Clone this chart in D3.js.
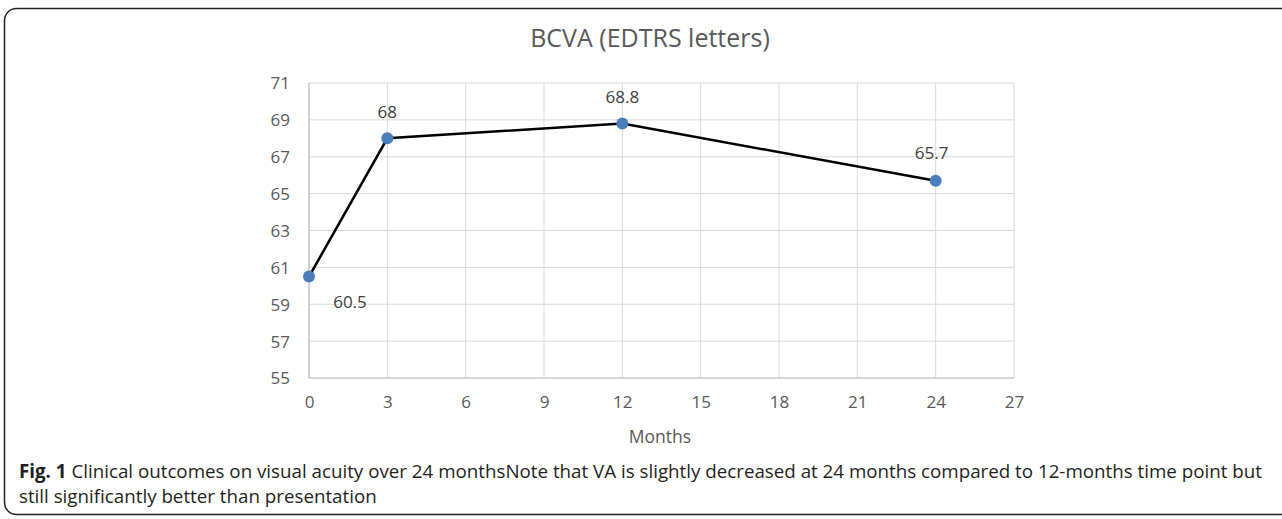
<!DOCTYPE html>
<html><head><meta charset="utf-8">
<script src="https://cdn.jsdelivr.net/npm/d3@7"></script>
<style>body{margin:0;background:#fff}svg{display:block}</style>
</head><body>
<script>
const months = [0, 3, 12, 24];
const bcva = [60.5, 68, 68.8, 65.7];
const labels = ["60.5", "68", "68.8", "65.7"];
const xTicks = [0, 3, 6, 9, 12, 15, 18, 21, 24, 27];
const yTicks = [55, 57, 59, 61, 63, 65, 67, 69, 71];
const title = "BCVA (EDTRS letters)";
const xTitle = "Months";
const captionBold = "Fig. 1";
const captionLine1 = " Clinical outcomes on visual acuity over 24 monthsNote that VA is slightly decreased at 24 months compared to 12-months time point but";
const captionLine2 = "still significantly better than presentation";

const W = 1282, H = 519;
const svg = d3.select("body").append("svg").attr("width", W).attr("height", H);
const font = "'Open Sans', sans-serif";
svg.append("rect").attr("x", 4.5).attr("y", 8.5).attr("width", 1290).attr("height", 506)
  .attr("rx", 12).attr("fill", "none").attr("stroke", "#222").attr("stroke-width", 1.5);

const x = d3.scaleLinear().domain([0, 27]).range([309, 1014]);
const y = d3.scaleLinear().domain([55, 71]).range([378, 83]);

const g = svg.append("g");
g.selectAll(".vg").data(xTicks).join("line")
  .attr("x1", d => x(d)).attr("x2", d => x(d)).attr("y1", y(71)).attr("y2", y(55))
  .attr("stroke", "#d9d9d9").attr("stroke-width", 1);
g.selectAll(".hg").data(yTicks).join("line")
  .attr("x1", x(0)).attr("x2", x(27)).attr("y1", d => y(d)).attr("y2", d => y(d))
  .attr("stroke", "#d9d9d9").attr("stroke-width", 1);
g.append("line").attr("x1", x(0)).attr("x2", x(27)).attr("y1", y(55)).attr("y2", y(55))
  .attr("stroke", "#bfbfbf").attr("stroke-width", 1.2);
g.append("line").attr("x1", x(0)).attr("x2", x(0)).attr("y1", y(71)).attr("y2", y(55))
  .attr("stroke", "#bfbfbf").attr("stroke-width", 1.2);

const fsT = 17;
const xAxis = d3.axisBottom(x).tickValues(xTicks).tickSize(0).tickPadding(0);
const xa = svg.append("g").attr("transform", `translate(0,${y(55)})`).call(xAxis);
xa.select(".domain").remove();
xa.selectAll("text").attr("y", 24).attr("dy", "0.35em").attr("font-family", font).attr("font-size", fsT).attr("fill", "#595959");

const yAxis = d3.axisLeft(y).tickValues(yTicks).tickSize(0).tickPadding(0);
const ya = svg.append("g").attr("transform", `translate(290,0)`).call(yAxis);
ya.select(".domain").remove();
ya.selectAll("text").attr("dy", "0.35em").attr("font-family", font).attr("font-size", fsT).attr("fill", "#595959");

const data = months.map((m, i) => ({m, v: bcva[i], l: labels[i]}));
svg.append("path").datum(data)
  .attr("d", d3.line().x(d => x(d.m)).y(d => y(d.v)))
  .attr("fill", "none").attr("stroke", "#000").attr("stroke-width", 2.5);
svg.selectAll(".pt").data(data).join("circle")
  .attr("cx", d => x(d.m)).attr("cy", d => y(d.v)).attr("r", 6).attr("fill", "#4a7ebb");

const offs = [[41, 25], [0, -26.5], [0, -27], [-4, -27.5]];
svg.selectAll(".lbl").data(data).join("text")
  .attr("x", (d, i) => x(d.m) + offs[i][0]).attr("y", (d, i) => y(d.v) + offs[i][1])
  .attr("dy", "0.35em").attr("text-anchor", "middle")
  .attr("font-family", font).attr("font-size", fsT).attr("fill", "#404040").text(d => d.l);

svg.append("text").attr("x", 650).attr("y", 47).attr("text-anchor", "middle")
  .attr("font-family", font).attr("font-size", 25).attr("fill", "#595959").text(title);
svg.append("text").attr("x", 660).attr("y", 437).attr("dy", "0.35em").attr("text-anchor", "middle")
  .attr("font-family", font).attr("font-size", 17.5).attr("fill", "#595959").text(xTitle);

const cap = svg.append("text").attr("x", 19).attr("y", 478)
  .attr("font-family", font).attr("font-size", 16).attr("fill", "#231f20");
cap.append("tspan").attr("font-weight", "bold").text(captionBold);
cap.append("tspan").text(captionLine1);
const cap2 = svg.append("text").attr("x", 19).attr("y", 503)
  .attr("font-family", font).attr("font-size", 16).attr("fill", "#231f20").text(captionLine2);
const wl = cap.node().getComputedTextLength();
const fs = 16 * (1262 - 19) / wl;
cap.attr("font-size", fs); cap2.attr("font-size", fs);
</script>
</body></html>
